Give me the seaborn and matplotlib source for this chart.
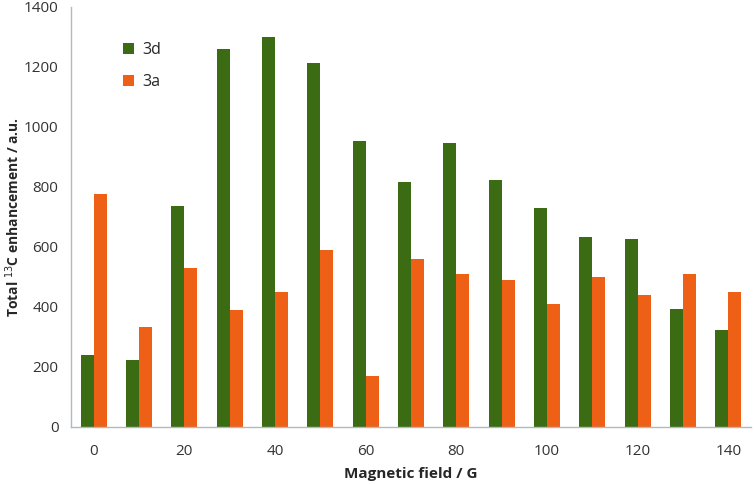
import matplotlib
matplotlib.use("Agg")
import matplotlib.pyplot as plt
import pandas as pd
import seaborn as sns

fields = [0, 10, 20, 30, 40, 50, 60, 70, 80, 90, 100, 110, 120, 130, 140]
series_3d = [240, 222, 737, 1258, 1298, 1212, 953, 817, 946, 824, 730, 632, 627, 393, 322]
series_3a = [776, 332, 530, 388, 448, 588, 170, 561, 508, 490, 409, 498, 438, 511, 451]
tick_labels = ["0", "", "20", "", "40", "", "60", "", "80", "", "100", "", "120", "", "140"]
y_ticks = [0, 200, 400, 600, 800, 1000, 1200, 1400]

df = pd.DataFrame({
    "field": [str(f) for f in fields] * 2,
    "value": series_3d + series_3a,
    "series": ["3d"] * len(fields) + ["3a"] * len(fields),
})

sns.set_theme(style="white")
plt.rcParams["font.family"] = ["Open Sans", "DejaVu Sans"]

fig = plt.figure(figsize=(7.54, 4.84), dpi=100)
ax = fig.add_axes([0.094, 0.118, 0.902, 0.868])

sns.barplot(
    data=df,
    x="field",
    y="value",
    hue="series",
    palette={"3d": "#3b6c14", "3a": "#ee6016"},
    width=0.575,
    saturation=1,
    edgecolor="none",
    ax=ax,
)

ax.set_xlim(-0.5, len(fields) - 0.5)
ax.set_ylim(0, 1400)
ax.set_yticks(y_ticks)
ax.set_yticklabels([str(t) for t in y_ticks], fontsize=11, color="#333333")
ax.set_xticks(range(len(fields)))
ax.set_xticklabels(tick_labels, fontsize=11, color="#333333")
ax.set_xticks([i - 0.5 for i in range(len(fields) + 1)], minor=True)
ax.tick_params(axis="x", which="major", length=0, pad=12)
ax.tick_params(axis="x", which="minor", length=5, color="#b0b8c4", width=1, direction="out")
ax.tick_params(axis="y", length=5, color="#b0b8c4", width=1, direction="out", pad=4)

for side in ["top", "right"]:
    ax.spines[side].set_visible(False)
for side in ["left", "bottom"]:
    ax.spines[side].set_color("#b0b8c4")
    ax.spines[side].set_linewidth(1)

ax.set_xlabel("Magnetic field / G", fontsize=11, fontweight="bold", labelpad=6)
ax.set_ylabel("Total $^{13}$C enhancement / a.u.", fontsize=10, fontweight="bold")
ax.yaxis.set_label_coords(-0.072, 0.5)

ax.legend(
    loc="upper left",
    bbox_to_anchor=(0.055, 0.95),
    frameon=False,
    fontsize=11.5,
    handlelength=0.7,
    handleheight=0.7,
    handletextpad=0.5,
    labelspacing=1.0,
    title=None,
)

plt.savefig("out.png", dpi=100)
plt.close()
